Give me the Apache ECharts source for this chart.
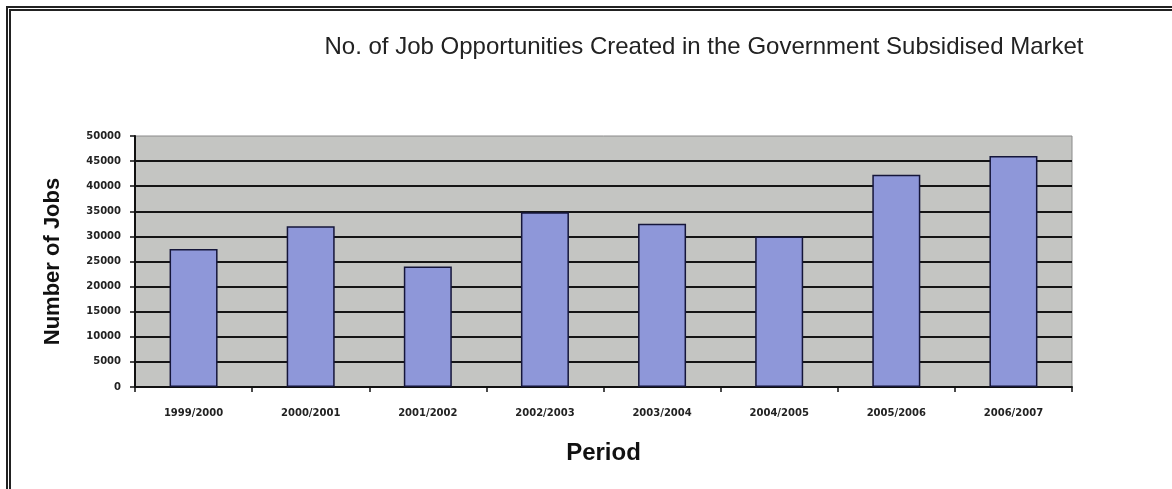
<!DOCTYPE html>
<html>
<head>
<meta charset="utf-8">
<script src="https://cdn.jsdelivr.net/npm/echarts@6/dist/echarts.min.js"></script>
<style>
  html, body { margin: 0; padding: 0; background: #ffffff; }
  #frame {
    position: absolute; left: 6px; top: 6px; width: 1200px; height: 600px;
    border-top: 5px double #222; border-left: 5px double #222;
  }
  #chart { position: absolute; left: 0; top: 0; width: 1172px; height: 489px; }
</style>
</head>
<body>
<div id="frame"></div>
<div id="chart"></div>
<script>
// Job opportunities created per financial year
const periods = ['1999/2000', '2000/2001', '2001/2002', '2002/2003', '2003/2004', '2004/2005', '2005/2006', '2006/2007'];
const jobs = [27500, 32000, 24000, 34800, 32500, 30000, 42300, 46000];

const chart = echarts.init(document.getElementById('chart'), null, { renderer: 'canvas' });

chart.setOption({
  animation: false,
  backgroundColor: 'transparent',
  title: {
    text: 'No. of Job Opportunities Created in the Government Subsidised Market',
    left: 699, top: 30, textAlign: 'center',
    textStyle: { fontFamily: 'Liberation Sans', fontWeight: 'normal', fontSize: 24, color: '#222' }
  },
  grid: {
    left: 135, right: 100, top: 136, bottom: 102,
    show: true, backgroundColor: '#c4c5c2', borderColor: '#8a8a8a', borderWidth: 1
  },
  xAxis: {
    type: 'category',
    data: periods,
    name: 'Period',
    nameLocation: 'middle',
    nameGap: 54,
    nameTextStyle: { fontFamily: 'Liberation Sans', fontWeight: 'bold', fontSize: 24, color: '#111' },
    axisLine: { lineStyle: { color: '#111', width: 2 } },
    axisTick: { show: true, length: 5, lineStyle: { color: '#111', width: 1.5 } },
    axisLabel: { margin: 21, fontFamily: 'DejaVu Sans', fontWeight: 'bold', fontSize: 10, color: '#222' }
  },
  yAxis: {
    type: 'value',
    min: 0, max: 50000, interval: 5000,
    name: 'Number of Jobs',
    nameLocation: 'middle',
    nameGap: 71,
    nameRotate: 90,
    nameTextStyle: { fontFamily: 'Liberation Sans', fontWeight: 'bold', fontSize: 22, color: '#111' },
    axisLine: { show: true, lineStyle: { color: '#111', width: 2 } },
    axisTick: { show: true, length: 5, lineStyle: { color: '#111', width: 1.5 } },
    axisLabel: {
      margin: 14, fontFamily: 'DejaVu Sans', fontWeight: 'bold', fontSize: 10, color: '#222',
      formatter: v => String(v)
    },
    splitLine: { show: true, showMaxLine: false, showMinLine: false, lineStyle: { color: '#151515', width: 2 } }
  },
  series: [{
    type: 'bar',
    data: jobs,
    barWidth: 48,
    itemStyle: { color: '#8e97d9', borderColor: '#15163a', borderWidth: 1.5 }
  }]
});
</script>
</body>
</html>
